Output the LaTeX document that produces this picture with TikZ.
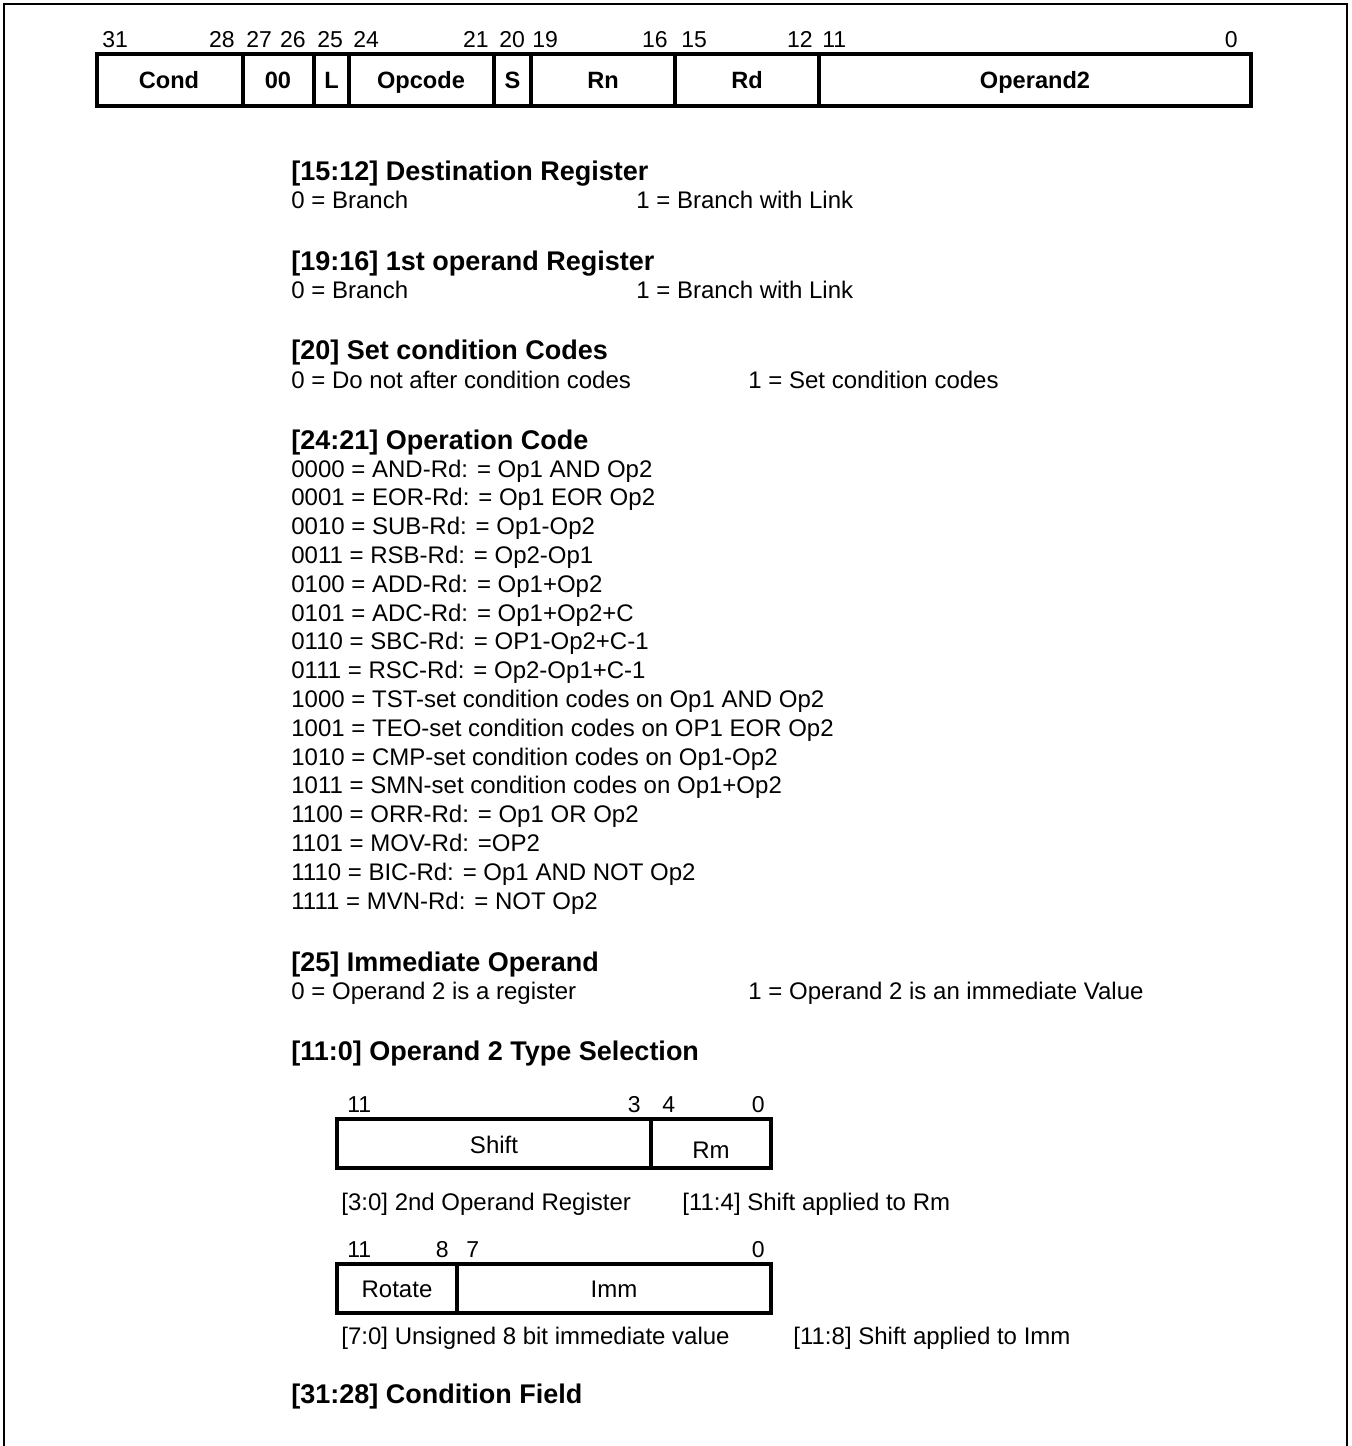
\documentclass[tikz,border=0pt]{standalone}
\usepackage{fontspec}
\setmainfont{Liberation Sans}
\usetikzlibrary{positioning}

\begin{document}
\begin{tikzpicture}[x=0.5pt,y=-0.5pt,every node/.style={inner sep=0pt},
	bitno/.style={font=\fontsize{11.5}{13}\selectfont},
	lab/.style={anchor=base,font=\fontsize{11.8}{14}\selectfont\bfseries},
	sublab/.style={anchor=base,font=\fontsize{12}{14}\selectfont},
	head/.style={anchor=base west,font=\fontsize{13.5}{16}\selectfont\bfseries},
	body/.style={anchor=base west,font=\fontsize{12}{14}\selectfont},
	reg/.style={line width=2pt}]
    \useasboundingbox (0,0) rectangle (1351,1446);
    % page frame
    \draw[line width=1pt] (4,1446) -- (4,4) -- (1347,4) -- (1347,1446);
    % instruction word
    \draw[reg] (97,54) rectangle (1251,106);
    \foreach \x in {243,314,349,494,531,675,819} \draw[reg] (\x,54) -- (\x,106);
    \node[bitno,anchor=base west] (b31) at (102,47) {31};
    \node[bitno,anchor=base east] (b28) at (235,47) {28};
    \node[bitno,anchor=base west] (b27) at (246,47) {27};
    \node[bitno,anchor=base east] (b26) at (306,47) {26};
    \node[bitno,anchor=base west] (b25) at (317,47) {25};
    \node[bitno,anchor=base west] (b24) at (353,47) {24};
    \node[bitno,anchor=base east] (b21) at (489,47) {21};
    \node[bitno,anchor=base west] (b20) at (499,47) {20};
    \node[bitno,anchor=base west] (b19) at (532,47) {19};
    \node[bitno,anchor=base east] (b16) at (668,47) {16};
    \node[bitno,anchor=base west] (b15) at (681,47) {15};
    \node[bitno,anchor=base east] (b12) at (813,47) {12};
    \node[bitno,anchor=base west] (b11) at (822,47) {11};
    \node[bitno,anchor=base east] (b0) at (1238,47) {0};
    \node[lab] (cond) at (169,88) {Cond};
    \node[lab] (zz) at (278,88) {00};
    \node[lab] (lbit) at (331.5,88) {L};
    \node[lab] (opc) at (421,88) {Opcode};
    \node[lab] (sbit) at (512.5,88) {S};
    \node[lab] (rn) at (603,88) {Rn};
    \node[lab] (rd) at (747,88) {Rd};
    \node[lab] (op2) at (1035,88) {Operand2};
    % field descriptions
    \node[head] (hrd) at (291,180) {[15:12] Destination Register};
    \node[body] (rd0) at (291,208) {0 = Branch};
    \node[body] (rd1) at (636,208) {1 = Branch with Link};
    \node[head] (hrn) at (291,270) {[19:16] 1st operand Register};
    \node[body] (rn0) at (291,298) {0 = Branch};
    \node[body] (rn1) at (636,298) {1 = Branch with Link};
    \node[head] (hs) at (291,359) {[20] Set condition Codes};
    \node[body] (s0) at (291,388) {0 = Do not after condition codes};
    \node[body] (s1) at (748,388) {1 = Set condition codes};
    \node[head] (hop) at (291,449) {[24:21] Operation Code};
    \foreach \txt [count=\i from 0] in {0000 = AND-Rd: = Op1 AND Op2,
	0001 = EOR-Rd: = Op1 EOR Op2, 0010 = SUB-Rd: = Op1-Op2,
	0011 = RSB-Rd: = Op2-Op1, 0100 = ADD-Rd: = Op1+Op2,
	0101 = ADC-Rd: = Op1+Op2+C, 0110 = SBC-Rd: = OP1-Op2+C-1,
	0111 = RSC-Rd: = Op2-Op1+C-1, 1000 = TST-set condition codes on Op1 AND Op2,
	1001 = TEO-set condition codes on OP1 EOR Op2,
	1010 = CMP-set condition codes on Op1-Op2,
	1011 = SMN-set condition codes on Op1+Op2, 1100 = ORR-Rd: = Op1 OR Op2,
	1101 = MOV-Rd: =OP2, 1110 = BIC-Rd: = Op1 AND NOT Op2,
	1111 = MVN-Rd: = NOT Op2}
	\node[body] (op\i) at (291,477+28.8*\i) {\txt};
    \node[head] (hi) at (291,971) {[25] Immediate Operand};
    \node[body] (i0) at (291,999) {0 = Operand 2 is a register};
    \node[body] (i1) at (748,999) {1 = Operand 2 is an immediate Value};
    \node[head] (hsel) at (291,1060) {[11:0] Operand 2 Type Selection};
    % register operand
    \draw[reg] (337,1119) rectangle (771,1168);
    \draw[reg] (651,1119) -- (651,1168);
    \node[bitno,anchor=base west] (r11) at (347,1112) {11};
    \node[bitno,anchor=base east] (r3) at (641,1112) {3};
    \node[bitno,anchor=base west] (r4) at (662,1112) {4};
    \node[bitno,anchor=base east] (r0) at (765,1112) {0};
    \node[sublab] (shift) at (494,1153) {Shift};
    \node[sublab] (rm) at (711,1158) {Rm};
    \node[body] (rmt) at (341,1210) {[3:0] 2nd Operand Register};
    \node[body] (sht) at (682,1210) {[11:4] Shift applied to Rm};
    % immediate operand
    \draw[reg] (337,1264) rectangle (771,1313);
    \draw[reg] (457,1264) -- (457,1313);
    \node[bitno,anchor=base west] (i11) at (347,1257) {11};
    \node[bitno,anchor=base east] (i8) at (449,1257) {8};
    \node[bitno,anchor=base west] (i7) at (466,1257) {7};
    \node[bitno,anchor=base east] (ii0) at (765,1257) {0};
    \node[sublab] (rot) at (397,1297) {Rotate};
    \node[sublab] (imm) at (614,1297) {Imm};
    \node[body] (immt) at (341,1344) {[7:0] Unsigned 8 bit immediate value};
    \node[body] (rott) at (793,1344) {[11:8] Shift applied to Imm};
    \node[head] (hc) at (291,1403) {[31:28] Condition Field};
\end{tikzpicture}
\end{document}
